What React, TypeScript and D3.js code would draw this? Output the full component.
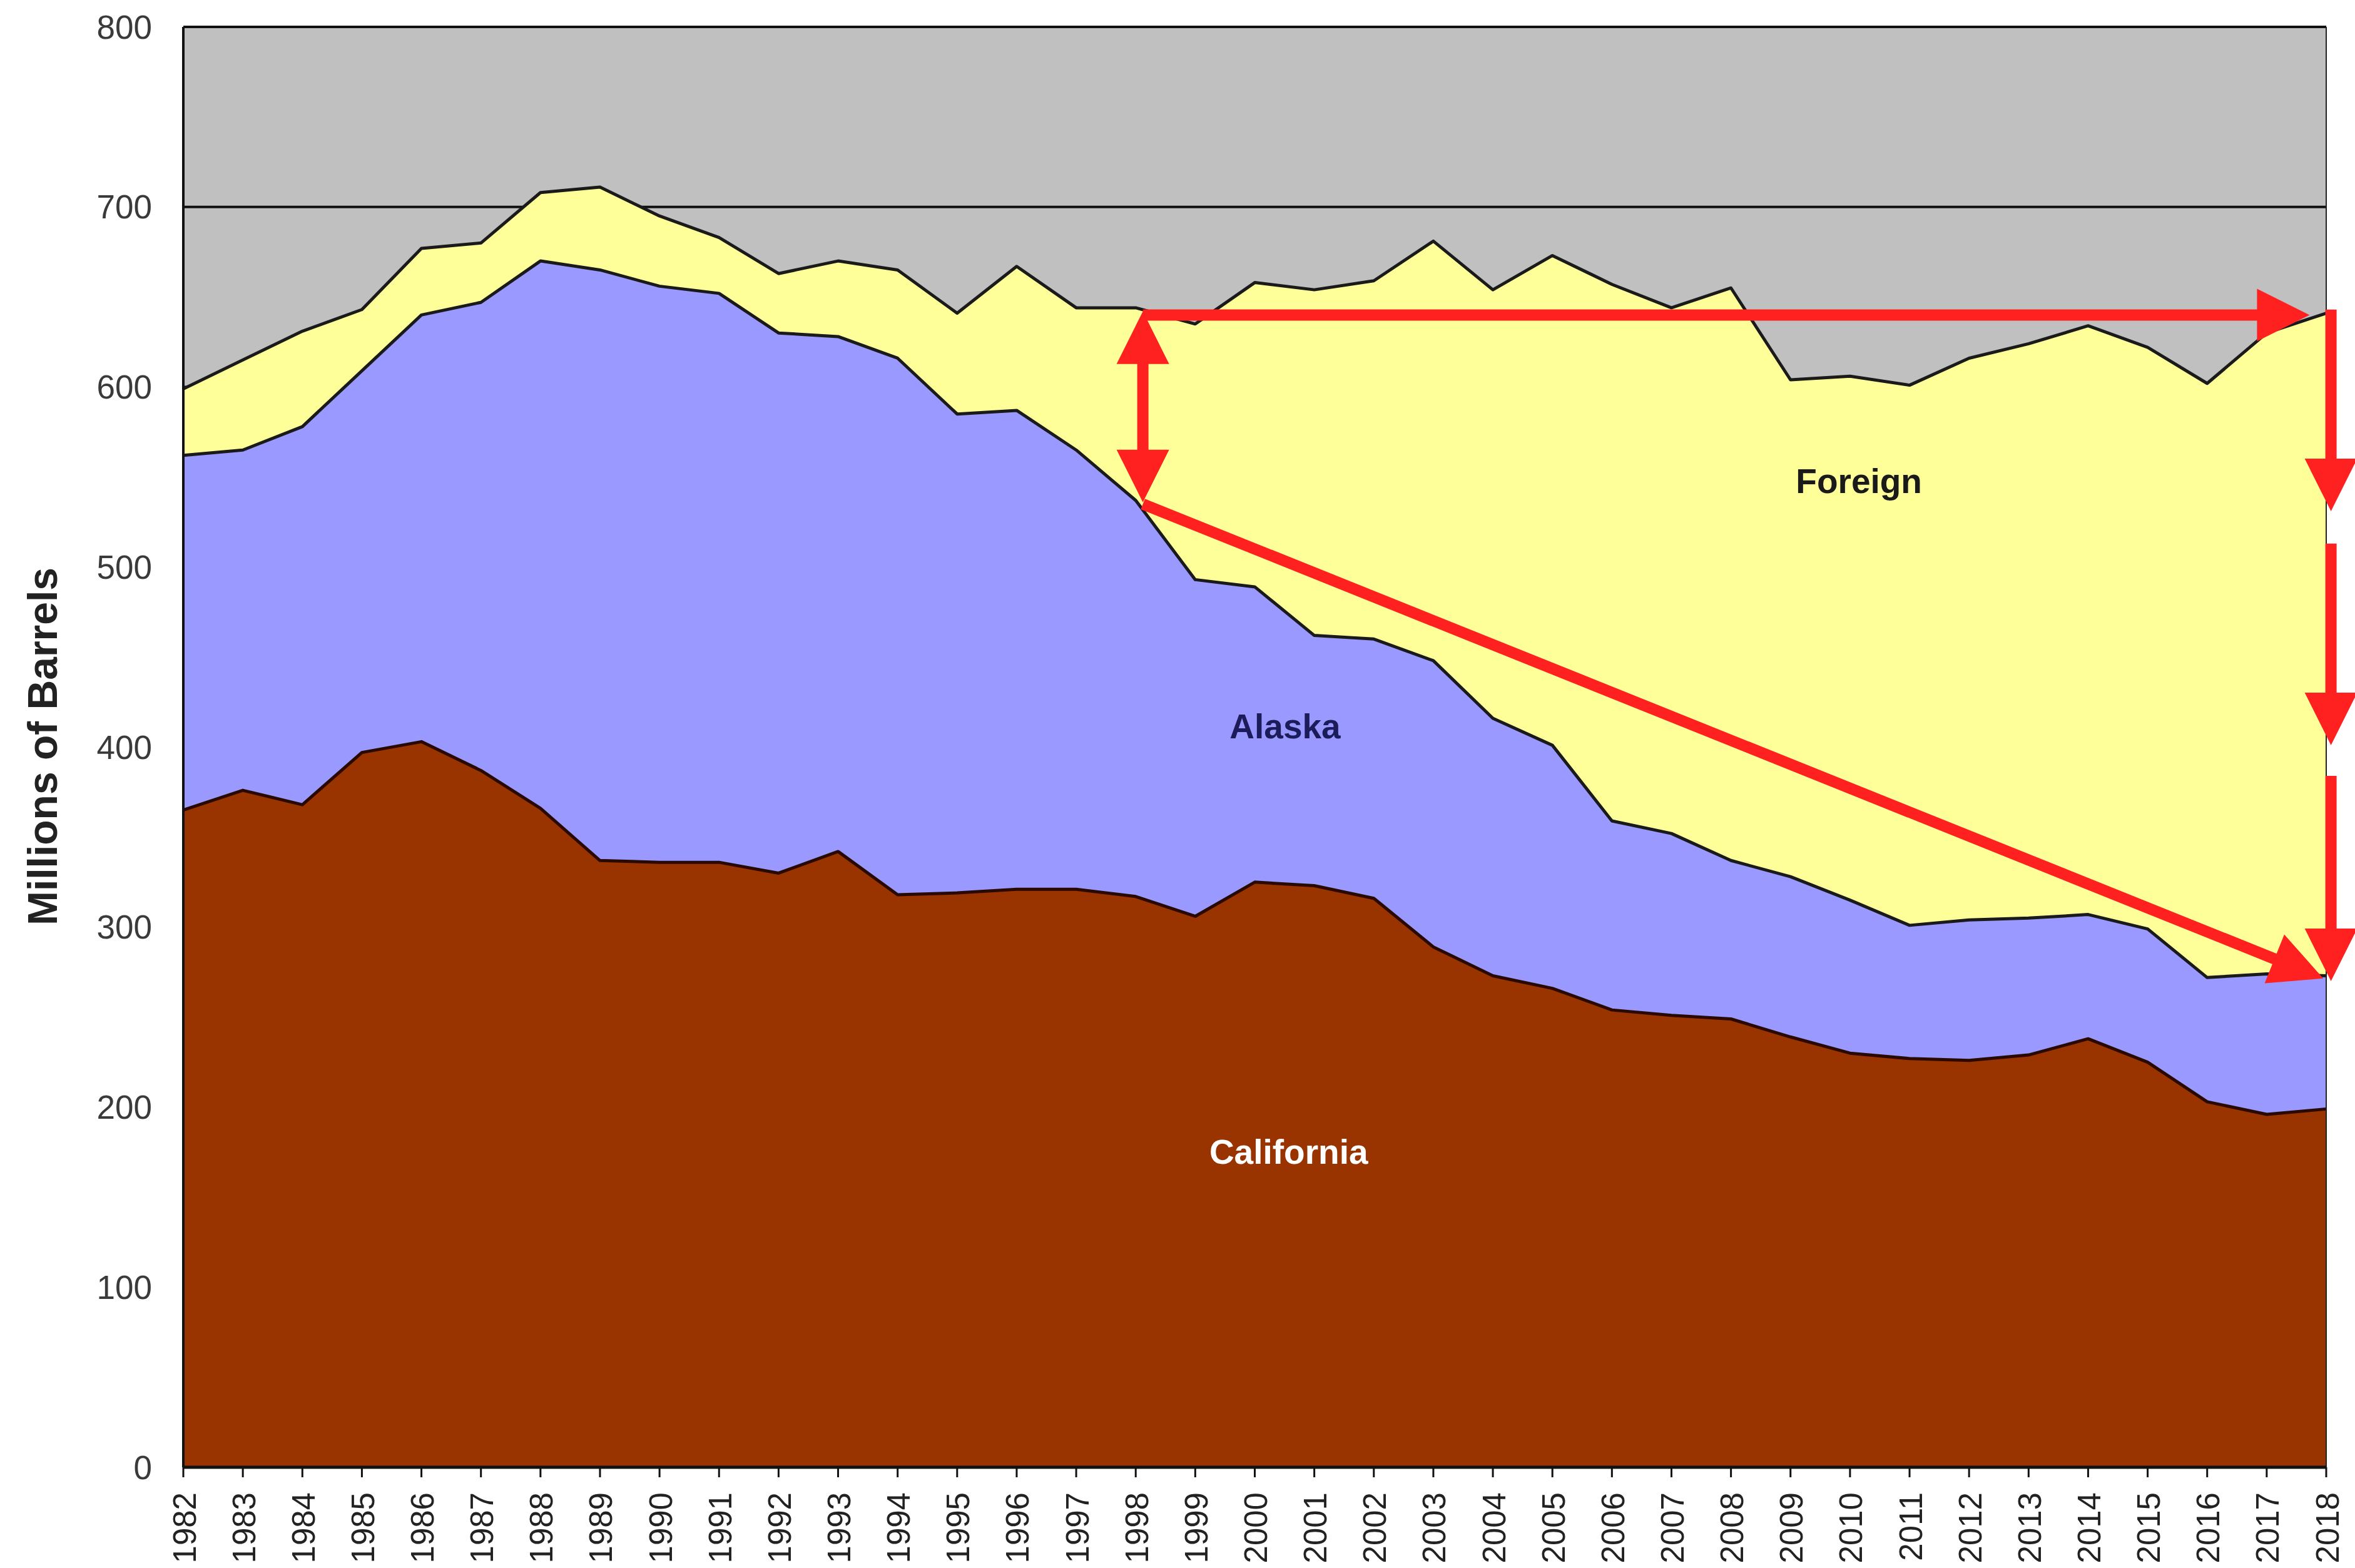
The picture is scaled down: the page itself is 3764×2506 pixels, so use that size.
import React from "react";
import * as d3 from "d3";

// Years on the x axis
const years = [
  1982, 1983, 1984, 1985, 1986, 1987, 1988, 1989, 1990, 1991, 1992, 1993,
  1994, 1995, 1996, 1997, 1998, 1999, 2000, 2001, 2002, 2003, 2004, 2005,
  2006, 2007, 2008, 2009, 2010, 2011, 2012, 2013, 2014, 2015, 2016, 2017, 2018,
];

// Millions of barrels by source (stacked bottom to top)
const california = [
  365, 376, 368, 397, 403, 387, 366, 337, 336, 336, 330, 342, 318, 319, 321,
  321, 317, 306, 325, 323, 316, 289, 273, 266, 254, 251, 249, 239, 230, 227,
  226, 229, 238, 225, 203, 196, 199,
];
const alaska = [
  197, 189, 210, 212, 237, 260, 304, 328, 320, 316, 300, 286, 298, 266, 266,
  244, 220, 187, 164, 139, 144, 159, 143, 135, 105, 101, 88, 89, 85, 74, 78,
  76, 69, 74, 69, 78, 74,
];
const foreign = [
  37, 50, 53, 34, 37, 33, 38, 46, 39, 31, 33, 42, 49, 56, 80, 79, 107, 142,
  169, 192, 199, 233, 238, 272, 298, 292, 318, 276, 291, 300, 312, 319, 327,
  323, 330, 356, 368,
];

const yTicks = [0, 100, 200, 300, 400, 500, 600, 700, 800];
const gridValues = [100, 200, 300, 400, 500, 600, 700];
const seriesKeys = ["California", "Alaska", "Foreign"];
const seriesColors = ["#993300", "#9999FF", "#FFFF99"];

const W = 3764;
const H = 2506;

type Row = { year: number; [k: string]: number };

function arrowShape(
  x1: number, y1: number, x2: number, y2: number,
  startHead: boolean, endHead: boolean, key: string
) {
  const L = 84;
  const hw = 42;
  const dx = x2 - x1;
  const dy = y2 - y1;
  const len = Math.hypot(dx, dy);
  const ux = dx / len;
  const uy = dy / len;
  const px = -uy;
  const py = ux;
  const head = (tx: number, ty: number, dirx: number, diry: number) => {
    const bx = tx - dirx * L;
    const by = ty - diry * L;
    return `${tx},${ty} ${bx + px * hw},${by + py * hw} ${bx - px * hw},${by - py * hw}`;
  };
  const sx = startHead ? x1 + ux * (L - 5) : x1;
  const sy = startHead ? y1 + uy * (L - 5) : y1;
  const ex = endHead ? x2 - ux * (L - 5) : x2;
  const ey = endHead ? y2 - uy * (L - 5) : y2;
  return (
    <g key={key}>
      <line x1={sx} y1={sy} x2={ex} y2={ey} stroke="#FF2020" strokeWidth={18} />
      {startHead && <polygon points={head(x1, y1, -ux, -uy)} fill="#FF2020" />}
      {endHead && <polygon points={head(x2, y2, ux, uy)} fill="#FF2020" />}
    </g>
  );
}

const App = () => {
  const x = d3.scaleLinear().domain([1982, 2018]).range([293, 3718]);
  const y = d3.scaleLinear().domain([0, 800]).range([2345, 43]);

  const rows: Row[] = years.map((yr, i) => ({
    year: yr,
    California: california[i],
    Alaska: alaska[i],
    Foreign: foreign[i],
  }));

  const stacked = d3.stack<Row>().keys(seriesKeys)(rows);

  const area = d3
    .area<any>()
    .x((d) => x(d.data.year))
    .y0((d) => y(d[0]))
    .y1((d) => y(d[1]));

  const topLine = d3
    .line<any>()
    .x((d) => x(d.data.year))
    .y((d) => y(d[1]));

  const [x0, x1] = x.range();
  const [yBottom, yTop] = y.range();

  // Red annotation arrows, in data units
  const arrows = [
    { a: [1998.12, 640], b: [2017.72, 640], s: false, e: true },
    { a: [1998.12, 642], b: [1998.12, 536], s: true, e: true },
    { a: [1998.12, 535], b: [2017.95, 271.5], s: false, e: true },
    { a: [2018.08, 643], b: [2018.08, 531], s: false, e: true },
    { a: [2018.08, 513], b: [2018.08, 401], s: false, e: true },
    { a: [2018.08, 384], b: [2018.08, 270], s: false, e: true },
  ];

  return (
    <div style={{ position: "absolute", left: 0, top: 0 }}>
      <svg width={W} height={H} style={{ display: "block", background: "#fff" }}>
        <rect x={x0} y={yTop} width={x1 - x0} height={yBottom - yTop} fill="#C0C0C0" />
        {gridValues.map((v) => (
          <line key={v} x1={x0} x2={x1} y1={y(v)} y2={y(v)} stroke="#111" strokeWidth={4} />
        ))}

        {stacked.map((s, i) => (
          <path key={s.key} d={area(s) || ""} fill={seriesColors[i]} />
        ))}
        {stacked.map((s, i) => (
          <path
            key={s.key + "-line"}
            d={topLine(s) || ""}
            fill="none"
            stroke={i === 0 ? "#2a0a00" : "#1a1a1a"}
            strokeWidth={5}
            strokeLinejoin="round"
          />
        ))}

        {/* plot frame */}
        <line x1={x0} x2={x1} y1={yTop} y2={yTop} stroke="#111" strokeWidth={4} />
        <line x1={x1} x2={x1} y1={yTop} y2={yBottom} stroke="#222" strokeWidth={2} />
        <line x1={x0} x2={x0} y1={yTop} y2={yBottom} stroke="#111" strokeWidth={4} />
        <line x1={x0} x2={x1} y1={yBottom} y2={yBottom} stroke="#111" strokeWidth={5} />

        {/* area labels */}
        <text x={x(2010.15)} y={y(541)} textAnchor="middle" fontFamily="Liberation Sans, Arial, sans-serif"
          fontWeight="bold" fontSize={55} fill="#1a1a1a">Foreign</text>
        <text x={x(2000.51)} y={y(405)} textAnchor="middle" fontFamily="Liberation Sans, Arial, sans-serif"
          fontWeight="bold" fontSize={55} fill="#1c1c5a">Alaska</text>
        <text x={x(2000.57)} y={y(168.5)} textAnchor="middle" fontFamily="Liberation Sans, Arial, sans-serif"
          fontWeight="bold" fontSize={55} fill="#ffffff">California</text>

        {/* arrows */}
        {arrows.map((ar, i) =>
          arrowShape(x(ar.a[0]), y(ar.a[1]), x(ar.b[0]), y(ar.b[1]), ar.s, ar.e, "ar" + i)
        )}

        {/* y axis labels */}
        {yTicks.map((v) => (
          <text key={v} x={243} y={y(v)} textAnchor="end" dominantBaseline="central"
            fontFamily="Liberation Sans, Arial, sans-serif" fontSize={53} fill="#3a3a3a">
            {v}
          </text>
        ))}

        {/* x axis ticks and labels */}
        {years.map((yr) => (
          <g key={yr}>
            <line x1={x(yr)} x2={x(yr)} y1={yBottom} y2={yBottom + 16} stroke="#111" strokeWidth={3} />
            <text
              transform={`translate(${x(yr) + 2},${yBottom + 40}) rotate(-90)`}
              textAnchor="end"
              dominantBaseline="central"
              fontFamily="Liberation Sans, Arial, sans-serif"
              fontSize={51}
              fill="#222"
            >
              {yr}
            </text>
          </g>
        ))}

        <text
          transform={`translate(91,1193) rotate(-90)`}
          textAnchor="middle"
          fontFamily="Liberation Sans, Arial, sans-serif"
          fontWeight="bold"
          fontSize={66}
          fill="#222"
        >
          Millions of Barrels
        </text>
      </svg>
    </div>
  );
};

export default App;
